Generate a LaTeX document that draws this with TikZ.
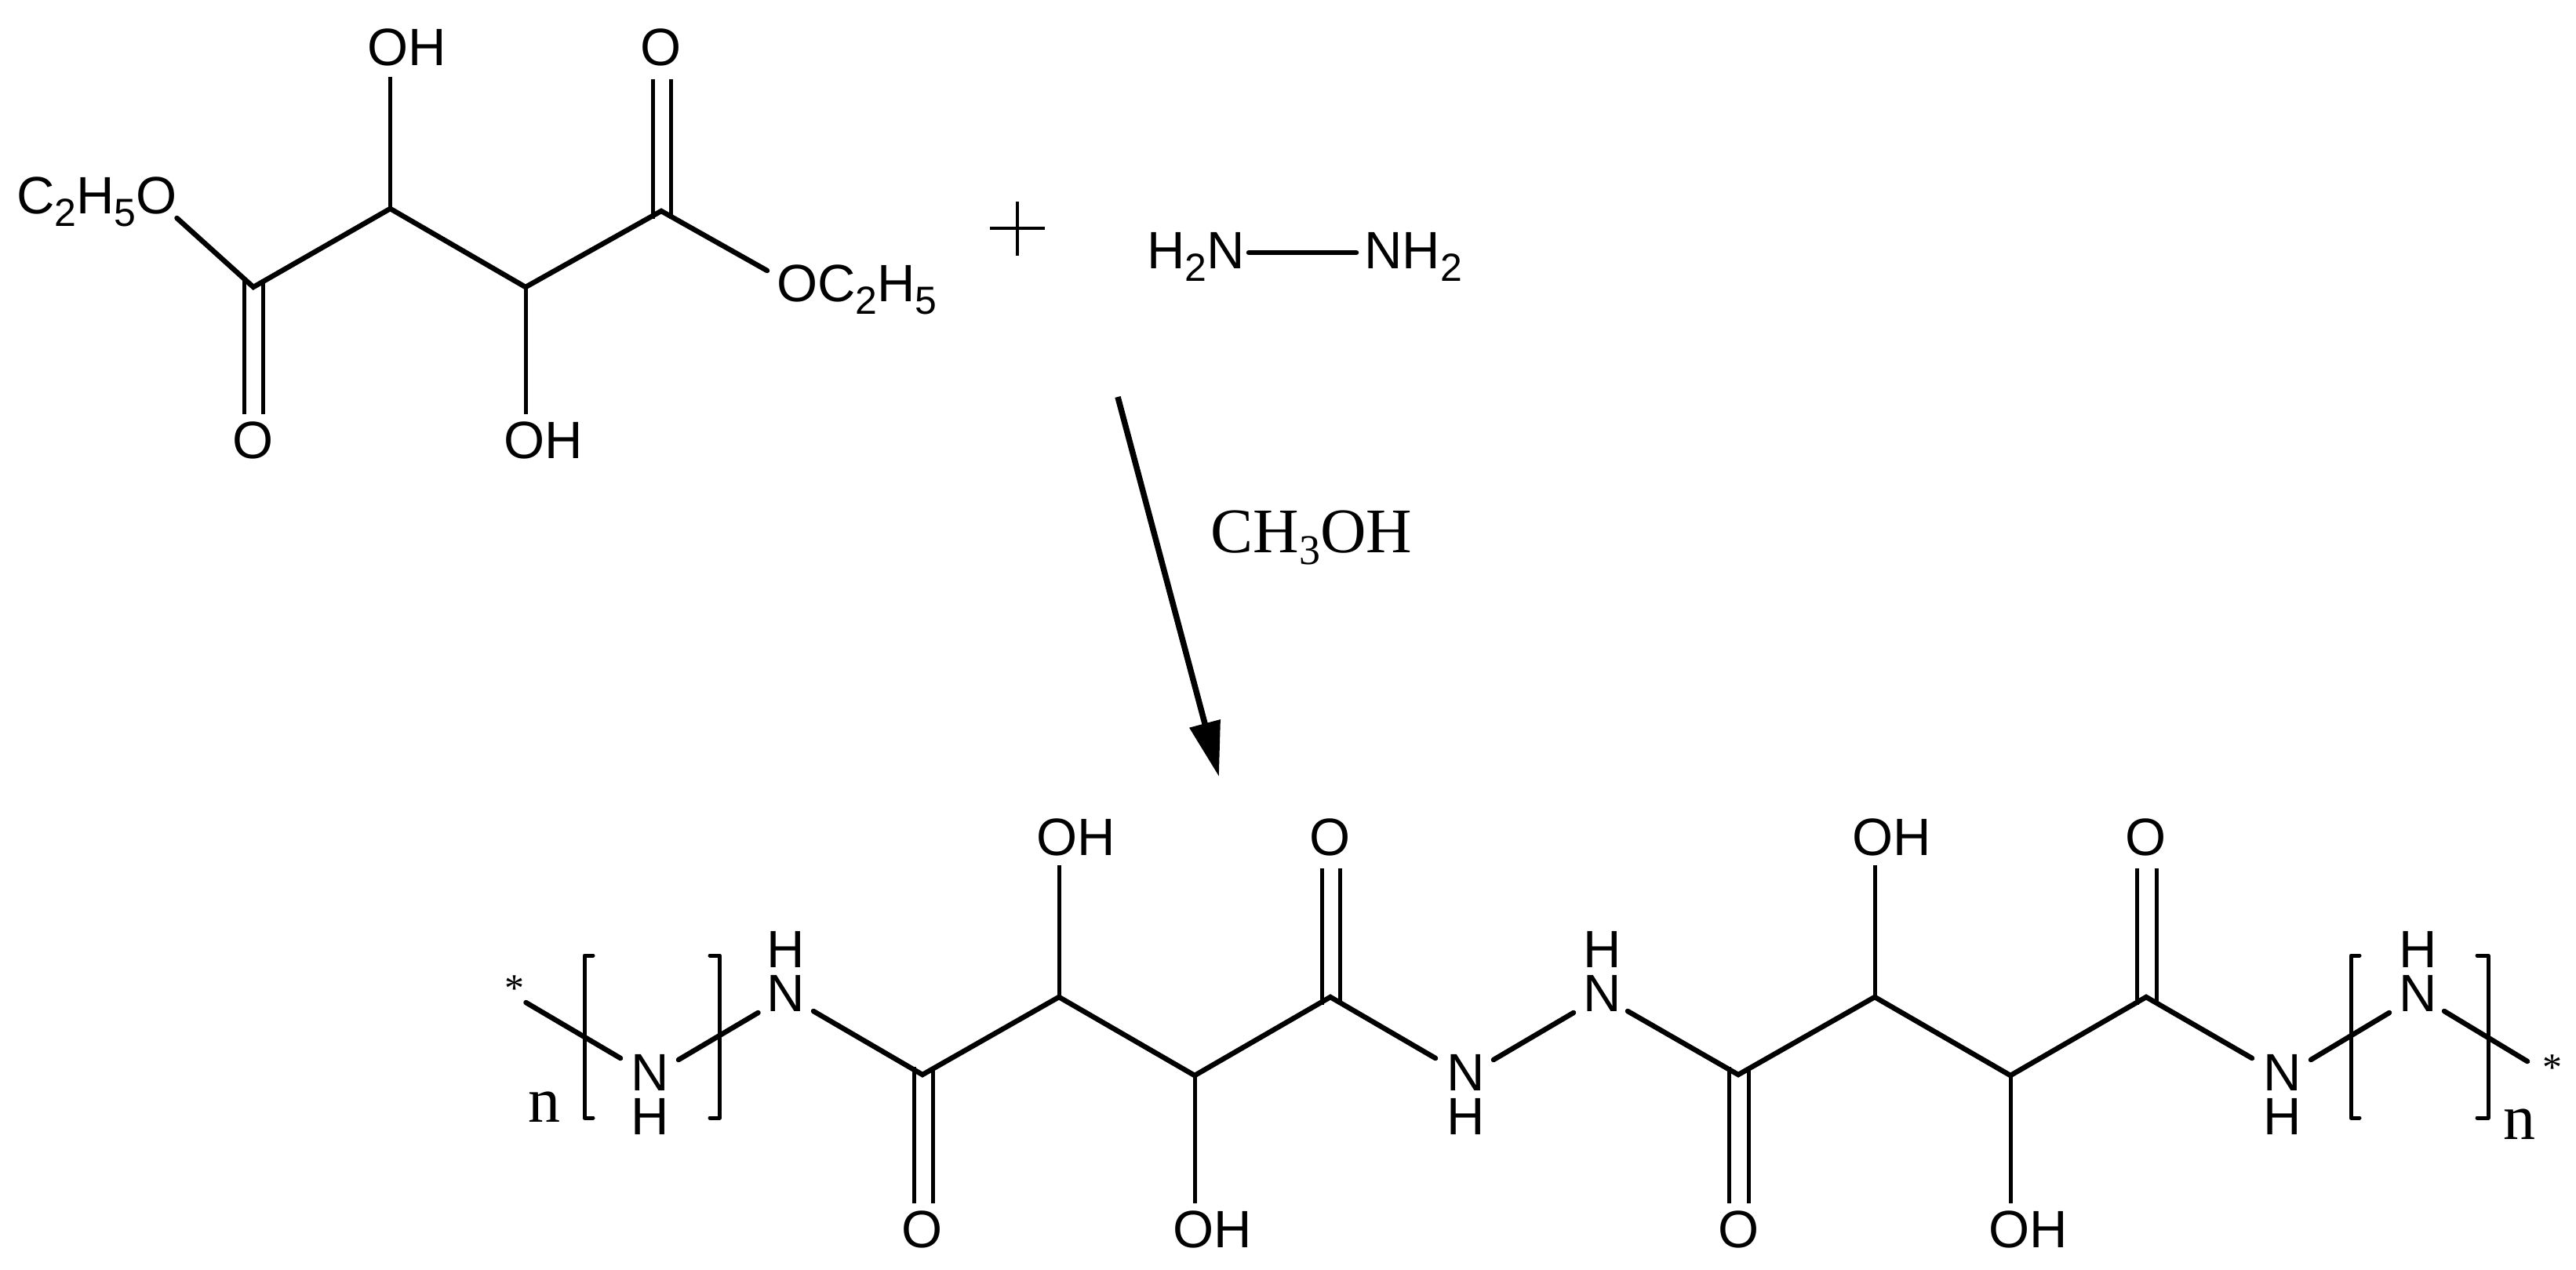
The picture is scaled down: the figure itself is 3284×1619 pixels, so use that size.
\documentclass[tikz,border=0pt]{standalone}
\usepackage{fontspec}
\usetikzlibrary{arrows.meta}
\setmainfont{Liberation Sans}
\newfontfamily\timesf{Liberation Serif}
\newcommand{\dn}[1]{\raisebox{-16pt}{\fontsize{50}{50}\selectfont #1}}
\newcommand{\dnt}[1]{\raisebox{-15pt}{\fontsize{54}{54}\selectfont #1}}
\tikzset{
  atom/.style={inner sep=0pt,outer sep=0pt,anchor=base,text=black,font=\fontsize{67}{67}\selectfont},
  stacked/.style={inner sep=0pt,outer sep=0pt,anchor=south,align=center,text=black,font=\fontsize{67}{56}\selectfont},
  serif/.style={inner sep=0pt,outer sep=0pt,anchor=base,text=black,font=\timesf\fontsize{#1}{#1}\selectfont},
  bond/.style={draw=black,line width=6.5pt,line cap=round,line join=miter},
  thinbond/.style={draw=black,line width=5pt,line cap=butt},
  bracket/.style={draw=black,line width=5pt,line cap=round,line join=round},
  plusline/.style={draw=black,line width=4pt},
  rxn/.style={draw=black,line width=7.5pt,-{Triangle[length=70pt,width=39pt]}}
}
\begin{document}
\begin{tikzpicture}[x=1pt,y=-1pt]
\useasboundingbox[fill=white] (0,0) rectangle (3284,1619);
% --- reactant: diethyl tartrate
\node[atom] (ohA) at (519,84) {OH};
\node[atom] (oA) at (842.5,84) {O};
\node[atom] (etA) at (123.5,272) {C\dn{2}H\dn{5}O};
\node[atom] (etB) at (1092.5,384) {OC\dn{2}H\dn{5}};
\node[atom] (oB) at (322.5,584) {O};
\node[atom] (ohB) at (692.5,584) {OH};
\coordinate (c1) at (323,366);
\coordinate (c2) at (497.5,266);
\coordinate (c3) at (670,366);
\coordinate (c4) at (843,269);
\coordinate (etAe) at (225.5,278);
\coordinate (etBe) at (978,345);
\coordinate (ohAe) at (497.5,98);
\coordinate (ohBe) at (670,528);
\coordinate (oAa) at (832,101);
\coordinate (oAb) at (855,101);
\coordinate (oAc) at (832,279);
\coordinate (oAd) at (855,279);
\coordinate (oBa) at (311,528);
\coordinate (oBb) at (335,528);
\coordinate (oBc) at (311,356);
\coordinate (oBd) at (335,356);
\draw[bond] (etAe) -- (c1) -- (c2) -- (c3) -- (c4) -- (etBe);
\draw[thinbond] (c2) -- (ohAe);
\draw[thinbond] (c3) -- (ohBe);
\draw[thinbond] (oAa) -- (oAc);
\draw[thinbond] (oAb) -- (oAd);
\draw[thinbond] (oBa) -- (oBc);
\draw[thinbond] (oBb) -- (oBd);
% --- plus
\coordinate (pl) at (1262,291);
\coordinate (pr) at (1332,291);
\coordinate (pt) at (1297,257);
\coordinate (pb) at (1297,326);
\draw[plusline] (pl) -- (pr);
\draw[plusline] (pt) -- (pb);
% --- hydrazine
\node[atom] (hzA) at (1524.5,342) {H\dn{2}N};
\node[atom] (hzB) at (1801.5,342) {NH\dn{2}};
\coordinate (hza) at (1592,322);
\coordinate (hzb) at (1729,322);
\draw[bond] (hza) -- (hzb);
% --- reaction arrow
\coordinate (ra) at (1425,506);
\coordinate (rb) at (1554,990);
\draw[rxn] (ra) -- (rb);
\node[serif=81] (meoh) at (1672,704) {CH\dnt{3}OH};
% --- product labels
\node[atom] (ohC) at (1371.5,1090) {OH};
\node[atom] (oC) at (1695.5,1090) {O};
\node[atom] (oD) at (1176,1590) {O};
\node[atom] (ohD) at (1545.5,1590) {OH};
\node[atom] (ohE) at (2411.5,1090) {OH};
\node[atom] (oE) at (2735.5,1090) {O};
\node[atom] (oF) at (2216.5,1590) {O};
\node[atom] (ohF) at (2585.5,1590) {OH};
\node[stacked] (na) at (828.5,1446) {N\\H};
\node[stacked] (nb) at (1002,1289) {H\\N};
\node[stacked] (nc) at (1868.5,1446) {N\\H};
\node[stacked] (nd) at (2042.5,1289) {H\\N};
\node[stacked] (ne) at (2909.5,1446) {N\\H};
\node[stacked] (nf) at (3082.5,1289) {H\\N};
\node[serif=50] (stL) at (656,1276) {*};
\node[serif=50] (stR) at (3254,1377) {*};
\node[serif=82] (nL) at (694,1430) {n};
\node[serif=82] (nR) at (3212,1452) {n};
% --- product skeleton
\coordinate (s1) at (670.5,1278);
\coordinate (s2) at (791,1349);
\coordinate (s3) at (865,1351);
\coordinate (s4) at (966.5,1291);
\coordinate (s5) at (1037,1289);
\coordinate (d1) at (1176,1370);
\coordinate (d2) at (1350,1271);
\coordinate (d3) at (1523,1371);
\coordinate (d4) at (1696,1271);
\coordinate (s6) at (1830,1349);
\coordinate (s7) at (1904,1351);
\coordinate (s8) at (2006,1291);
\coordinate (s9) at (2075,1289);
\coordinate (e1) at (2216,1370);
\coordinate (e2) at (2390,1271);
\coordinate (e3) at (2563,1371);
\coordinate (e4) at (2736,1271);
\coordinate (s10) at (2871,1349);
\coordinate (s11) at (2946,1351);
\coordinate (s12) at (3046,1291);
\coordinate (s13) at (3116,1289);
\coordinate (s14) at (3222,1353);
\draw[bond] (s1) -- (s2);
\draw[bond] (s3) -- (s4);
\draw[bond] (s5) -- (d1) -- (d2) -- (d3) -- (d4) -- (s6);
\draw[bond] (s7) -- (s8);
\draw[bond] (s9) -- (e1) -- (e2) -- (e3) -- (e4) -- (s10);
\draw[bond] (s11) -- (s12);
\draw[bond] (s13) -- (s14);
% OH / O substituents
\coordinate (ohCe) at (1350,1103);
\coordinate (ohDe) at (1523,1534);
\coordinate (ohEe) at (2390,1103);
\coordinate (ohFe) at (2563,1534);
\draw[thinbond] (d2) -- (ohCe);
\draw[thinbond] (d3) -- (ohDe);
\draw[thinbond] (e2) -- (ohEe);
\draw[thinbond] (e3) -- (ohFe);
\coordinate (oCa) at (1685,1107);
\coordinate (oCb) at (1708,1107);
\coordinate (oCc) at (1685,1281);
\coordinate (oCd) at (1708,1281);
\coordinate (oDa) at (1165,1534);
\coordinate (oDb) at (1189,1534);
\coordinate (oDc) at (1165,1360);
\coordinate (oDd) at (1189,1360);
\coordinate (oEa) at (2724,1107);
\coordinate (oEb) at (2749,1107);
\coordinate (oEc) at (2724,1281);
\coordinate (oEd) at (2749,1281);
\coordinate (oFa) at (2204.5,1534);
\coordinate (oFb) at (2229,1534);
\coordinate (oFc) at (2204.5,1360);
\coordinate (oFd) at (2229,1360);
\draw[thinbond] (oCa) -- (oCc);
\draw[thinbond] (oCb) -- (oCd);
\draw[thinbond] (oDa) -- (oDc);
\draw[thinbond] (oDb) -- (oDd);
\draw[thinbond] (oEa) -- (oEc);
\draw[thinbond] (oEb) -- (oEd);
\draw[thinbond] (oFa) -- (oFc);
\draw[thinbond] (oFb) -- (oFd);
% brackets
\coordinate (b1a) at (756,1218);
\coordinate (b1b) at (745,1218);
\coordinate (b1c) at (745,1425);
\coordinate (b1d) at (756,1425);
\coordinate (b2a) at (905,1218);
\coordinate (b2b) at (917.5,1218);
\coordinate (b2c) at (917.5,1425);
\coordinate (b2d) at (905,1425);
\coordinate (b3a) at (3008,1218);
\coordinate (b3b) at (2997,1218);
\coordinate (b3c) at (2997,1425);
\coordinate (b3d) at (3008,1425);
\coordinate (b4a) at (3158,1218);
\coordinate (b4b) at (3172,1218);
\coordinate (b4c) at (3172,1425);
\coordinate (b4d) at (3158,1425);
\draw[bracket] (b1a) -- (b1b) -- (b1c) -- (b1d);
\draw[bracket] (b2a) -- (b2b) -- (b2c) -- (b2d);
\draw[bracket] (b3a) -- (b3b) -- (b3c) -- (b3d);
\draw[bracket] (b4a) -- (b4b) -- (b4c) -- (b4d);
\end{tikzpicture}
\end{document}
